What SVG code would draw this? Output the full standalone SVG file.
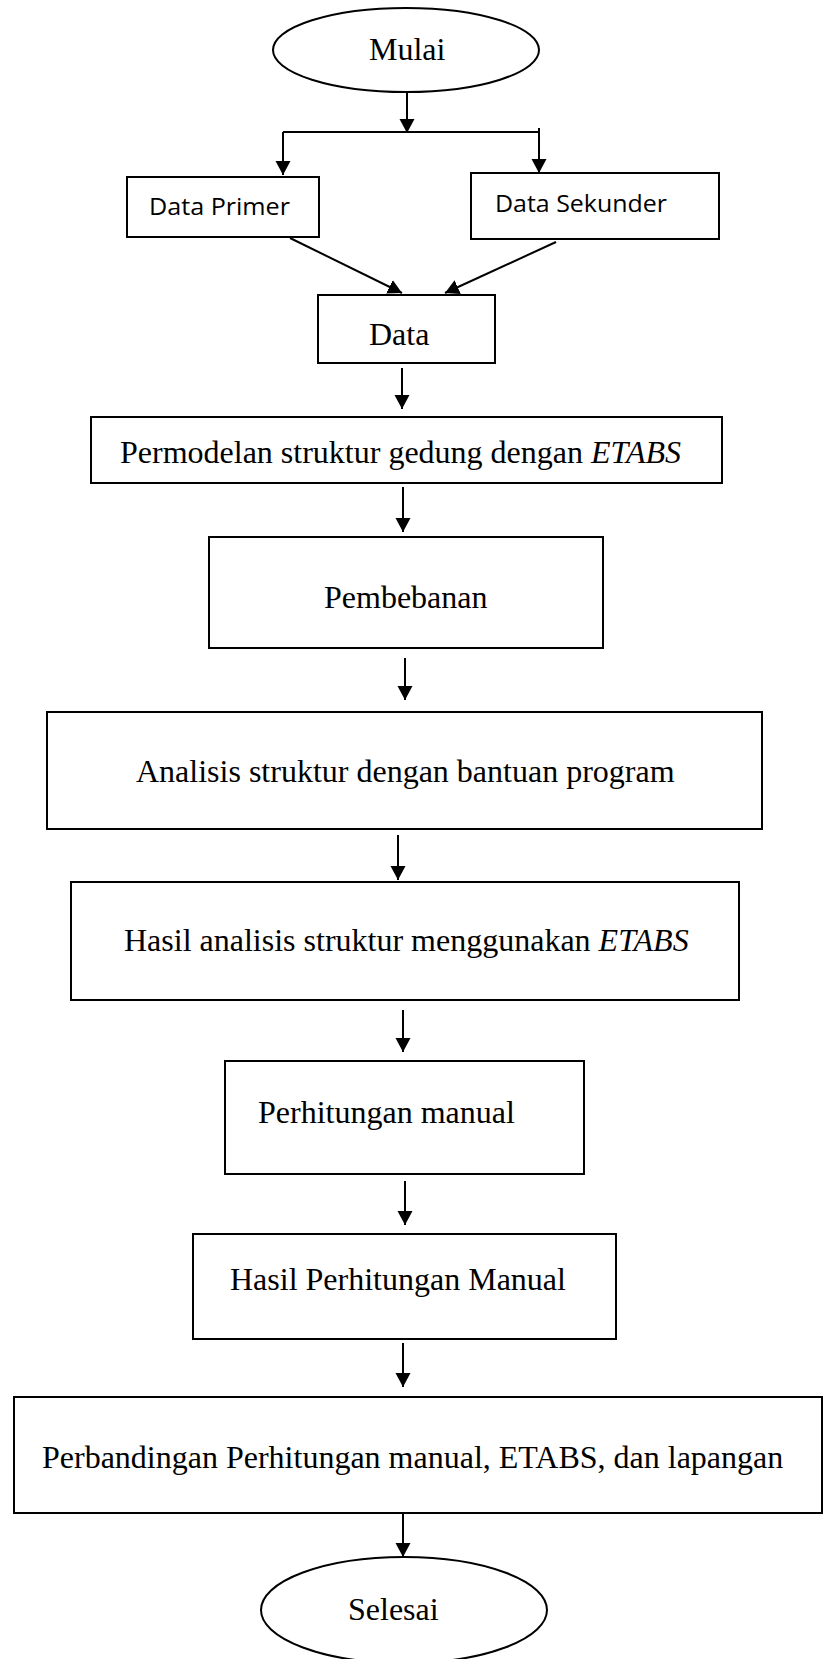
<svg xmlns="http://www.w3.org/2000/svg" width="823" height="1659" viewBox="0 0 823 1659">
<style>
.box{fill:#fff;stroke:#000;stroke-width:2}
.t{font-family:"Liberation Serif","Times New Roman",serif;font-size:32px;fill:#000}
.s{font-family:"Open Sans","Liberation Sans",sans-serif;font-size:23px;fill:#000}
.c{fill:none;stroke:#000;stroke-width:2}
</style>
<defs>
<marker id="ah" markerUnits="userSpaceOnUse" markerWidth="16" markerHeight="16" refX="14" refY="7.5" orient="auto">
<path d="M0,0 L14,7.5 L0,15 Z" fill="#000"/>
</marker>
</defs>
<rect width="823" height="1659" fill="#fff"/>
<g id="connectors">
<path class="c" d="M407,92 V133" marker-end="url(#ah)"/>
<path class="c" d="M283,132 H539"/>
<path class="c" d="M283,132 V175" marker-end="url(#ah)"/>
<path class="c" d="M539,128 V173" marker-end="url(#ah)"/>
<path class="c" d="M290,238 L402,293" marker-end="url(#ah)"/>
<path class="c" d="M556,242 L445,293" marker-end="url(#ah)"/>
<path class="c" d="M402,368 V409" marker-end="url(#ah)"/>
<path class="c" d="M403,487 V532" marker-end="url(#ah)"/>
<path class="c" d="M405,658 V700" marker-end="url(#ah)"/>
<path class="c" d="M398,835 V880" marker-end="url(#ah)"/>
<path class="c" d="M403,1010 V1052" marker-end="url(#ah)"/>
<path class="c" d="M405,1181 V1225" marker-end="url(#ah)"/>
<path class="c" d="M403,1343 V1387" marker-end="url(#ah)"/>
<path class="c" d="M403,1513 V1557" marker-end="url(#ah)"/>
</g>
<g id="mulai"><ellipse class="box" cx="406" cy="50" rx="133" ry="42"/><text class="t" x="369" y="60">Mulai</text></g>
<g id="data-primer"><rect class="box" x="127" y="177" width="192" height="60"/><text class="s" x="149" y="215" textLength="141" lengthAdjust="spacingAndGlyphs">Data Primer</text></g>
<g id="data-sekunder"><rect class="box" x="471" y="173" width="248" height="66"/><text class="s" x="495" y="212" textLength="172" lengthAdjust="spacingAndGlyphs">Data Sekunder</text></g>
<g id="data"><rect class="box" x="318" y="295" width="177" height="68"/><text class="t" x="369" y="345">Data</text></g>
<g id="permodelan"><rect class="box" x="91" y="417" width="631" height="66"/><text class="t" x="120" y="463">Permodelan struktur gedung dengan <tspan font-style="italic">ETABS</tspan></text></g>
<g id="pembebanan"><rect class="box" x="209" y="537" width="394" height="111"/><text class="t" x="324" y="608">Pembebanan</text></g>
<g id="analisis"><rect class="box" x="47" y="712" width="715" height="117"/><text class="t" x="136" y="782">Analisis struktur dengan bantuan program</text></g>
<g id="hasil-analisis"><rect class="box" x="71" y="882" width="668" height="118"/><text class="t" x="124" y="951">Hasil analisis struktur menggunakan <tspan font-style="italic">ETABS</tspan></text></g>
<g id="perhitungan-manual"><rect class="box" x="225" y="1061" width="359" height="113"/><text class="t" x="258" y="1123">Perhitungan manual</text></g>
<g id="hasil-perhitungan"><rect class="box" x="193" y="1234" width="423" height="105"/><text class="t" x="230" y="1290">Hasil Perhitungan Manual</text></g>
<g id="perbandingan"><rect class="box" x="14" y="1397" width="808" height="116"/><text class="t" x="42" y="1468">Perbandingan Perhitungan manual, ETABS, dan lapangan</text></g>
<g id="selesai"><ellipse class="box" cx="404" cy="1610" rx="143" ry="53"/><text class="t" x="348" y="1620">Selesai</text></g>
</svg>
